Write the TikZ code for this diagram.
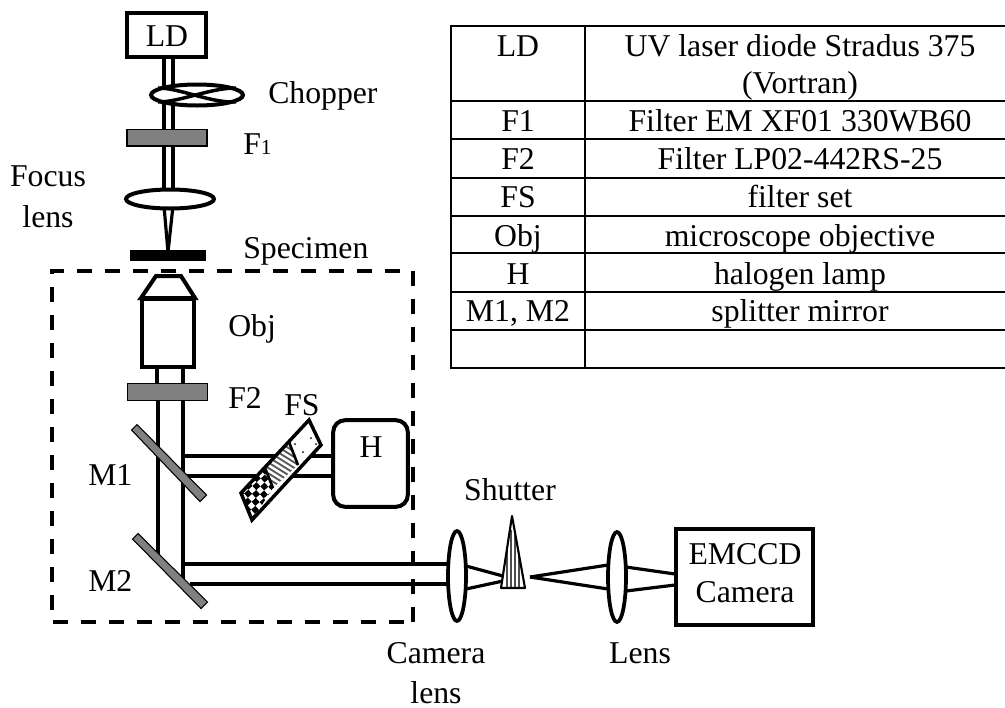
\documentclass[tikz,border=0pt]{standalone}
\usepackage{fontspec}
\setmainfont{Liberation Serif}
\tikzset{
  x=0.75pt,y=-0.75pt,
  lab/.style={inner sep=0pt,anchor=base,font=\fontsize{23.8}{28}\selectfont},
  labl/.style={lab,anchor=base west},
  beam/.style={line width=3pt},
  thinbeam/.style={line width=2.4pt},
  blackbox/.style={draw=black,line width=3pt,fill=white},
  filt/.style={draw=black,line width=1pt,fill=black!50},
  mirror/.style={draw=black,line width=0.8pt,fill=black!50},
  grid/.style={line width=1.7pt},
  pane/.style={draw=black,line width=2.6pt,line join=miter},
  dbox/.style={line width=3.6pt,dash pattern=on 11pt off 10pt}
}
\begin{document}
\begin{tikzpicture}
\useasboundingbox (0,0) rectangle (1005,707);
\fill[white] (0,0) rectangle (1005,707);
% named points
\coordinate (b1t) at (164,58); \coordinate (b1b) at (164,192);
\coordinate (b2t) at (173,58); \coordinate (b2b) at (173,192);
\coordinate (foc) at (168,252);
% upper beam
\draw[beam] (b1t) -- (b1b); \draw[beam] (b2t) -- (b2b);
\draw[thinbeam] (164,206) -- (foc); \draw[thinbeam] (173,206) -- (foc);
% LD
\node[blackbox,minimum width=59pt,minimum height=33pt,inner sep=0pt] (ld) at (166.5,35) {};
\node[lab] (ldt) at (167,46) {LD};
% chopper
\draw[line width=3pt,fill=white] (197,95) ellipse (46 and 10.5);
\draw[line width=2.6pt] (158,88) .. controls (180,88) and (210,103) .. (236,102);
\draw[line width=2.6pt] (158,102) .. controls (180,102) and (210,88) .. (236,88);
\node[labl] (chop) at (268,103) {Chopper};
% F1
\node[filt,minimum width=60pt,minimum height=12.5pt,inner sep=0pt] (f1) at (167,137.5) {};
\node[labl] (f1t) at (243,154) {F\fontsize{16}{18}\selectfont 1};
% focus lens
\draw[line width=3pt,fill=white] (170,199) ellipse (44 and 9.5);
\node[lab] (fa) at (48,186) {Focus};
\node[lab] (fb) at (48,227) {lens};
% specimen
\node[fill=black,minimum width=57pt,minimum height=8pt,inner sep=0pt] (sp) at (168,255.5) {};
\node[labl] (spt) at (243,258) {Specimen};
% dashed box
\draw[dbox] (413,622) -- (413,271) -- (52,271) -- (52,622) -- cycle;
% objective
\draw[beam] (157,368) -- (157,384); \draw[beam] (183,368) -- (183,384);
\draw[line width=3pt,line join=miter,fill=white] (141,298) -- (156,276) -- (181,276) -- (195,298) -- cycle;
\node[blackbox,minimum width=39pt,minimum height=51.5pt,inner sep=0pt] (obj) at (167.5,333) {};
\node[labl] (objt) at (228,336) {Obj};
% F2
\node[filt,minimum width=60pt,minimum height=12.5pt,inner sep=0pt] (f2) at (167.5,392) {};
\node[labl] (f2t) at (228,408) {F2};
% vertical beams
\draw[beam] (158,401) -- (158,555);
\draw[beam] (183,401) -- (183,582);
% lamp beams
\draw[thinbeam] (184,456) -- (333,456);
\draw[thinbeam] (186,476) -- (333,476);
% camera beams
\draw[beam] (184,564) -- (448,564);
\draw[thinbeam] (190,584) -- (448,584);
% mirrors
\draw[mirror] (131.5,430) -- (137,424.5) -- (206.5,495) -- (200,501.5) -- cycle;
\draw[mirror] (132.5,539) -- (138,533.5) -- (207.5,602) -- (201,608.5) -- cycle;
\node[labl] (m1) at (88,485) {M1};
\node[labl] (m2) at (88,591) {M2};
% H
\node[draw=black,line width=3pt,rounded corners=9pt,fill=white,minimum width=56pt,minimum height=65pt,inner sep=0pt] (h) at (370.5,463.5) {};
\node[lab] (ht) at (371,457) {H};
% FS
\fill[white] (309,420) -- (321,445) -- (252,520) -- (241,493) -- cycle;
\begin{scope}
\clip (265,468) -- (273,488) -- (252,520) -- (241,493) -- cycle;
\foreach \i in {-4,...,4}{\foreach \j in {-4,...,4}{
  \pgfmathparse{int(mod(\i+\j+12,2))}
  \ifnum\pgfmathresult=0
    \fill[black,shift={(256,494)},rotate=42] (\i*5.6-2.8,\j*5.6-2.8) rectangle (\i*5.6+2.8,\j*5.6+2.8);
  \fi}}
\end{scope}
\begin{scope}
\clip (289,442) -- (298,465) -- (273,488) -- (265,468) -- cycle;
\foreach \k in {-6,...,6}{
  \draw[black!65,line width=1.4pt,shift={(281,465)},rotate=-32] (-30,\k*4.6) -- (30,\k*4.6);}
\end{scope}
\foreach \p in {(304,426),(295,444),(311,438),(303,452),(316,444)}{\fill[black] \p circle (1);}
\draw[pane] (309,420) -- (321,445) -- (252,520) -- (241,493) -- cycle;
\draw[line width=2pt] (289,442) -- (298,465);
\draw[line width=2pt] (265,468) -- (273,488);
\node[labl] (fs) at (284,415) {FS};
% camera lens
\draw[line width=2.8pt,fill=white] (457,576) ellipse (9 and 45);
\coordinate (s1) at (503,576); \coordinate (s2) at (503,581);
\draw[thinbeam] (466,566) -- (s1);
\draw[thinbeam] (466,589) -- (s2);
% shutter
\fill[white] (512,516) -- (525,588) -- (501,588) -- cycle;
\foreach \xx/\yy in {507/550,511/530,515/535,519/555}{\draw[line width=.8pt,black!70] (\xx,\yy) -- (\xx,588);}
\draw[line width=1.6pt,line join=round] (512,516) -- (525,588) -- (501,588) -- cycle;
\node[lab] (sh) at (510,500) {Shutter};
% lens 2
\coordinate (foc2) at (530,577);
\draw[thinbeam] (foc2) -- (608,565);
\draw[thinbeam] (foc2) -- (608,589);
\draw[line width=2.8pt,fill=white] (617,577) ellipse (9 and 45);
\draw[thinbeam] (626,567) -- (675,574);
\draw[thinbeam] (626,591) -- (675,585);
% camera
\node[blackbox,minimum width=103pt,minimum height=72pt,inner sep=0pt] (cam) at (744.5,577) {};
\node[lab] (ca) at (745,564) {EMCCD};
\node[lab] (cb) at (745,602) {Camera};
\node[lab] (cl1) at (436,663) {Camera};
\node[lab] (cl2) at (436,703) {lens};
\node[lab] (ll) at (640,663) {Lens};
% table
\draw[grid] (1005,26) -- (451,26) -- (451,368) -- (1005,368);
\draw[grid] (585,26) -- (585,368);
\foreach \yy in {101,139,178,216,253,292,330}{\draw[grid] (451,\yy) -- (1005,\yy);}
\node[lab] (t1) at (518,56) {LD};
\node[lab] (d1) at (800,56) {UV laser diode Stradus 375};
\node[lab] (d1b) at (800,93) {(Vortran)};
\node[lab] (t2) at (518,131) {F1};
\node[lab] (d2) at (800,131) {Filter EM XF01 330WB60};
\node[lab] (t3) at (518,169) {F2};
\node[lab] (d3) at (800,169) {Filter LP02-442RS-25};
\node[lab] (t4) at (518,207) {FS};
\node[lab] (d4) at (800,207) {filter set};
\node[lab] (t5) at (518,246) {Obj};
\node[lab] (d5) at (800,246) {microscope objective};
\node[lab] (t6) at (518,284) {H};
\node[lab] (d6) at (800,284) {halogen lamp};
\node[lab] (t7) at (518,321) {M1, M2};
\node[lab] (d7) at (800,321) {splitter mirror};
\end{tikzpicture}
\end{document}
